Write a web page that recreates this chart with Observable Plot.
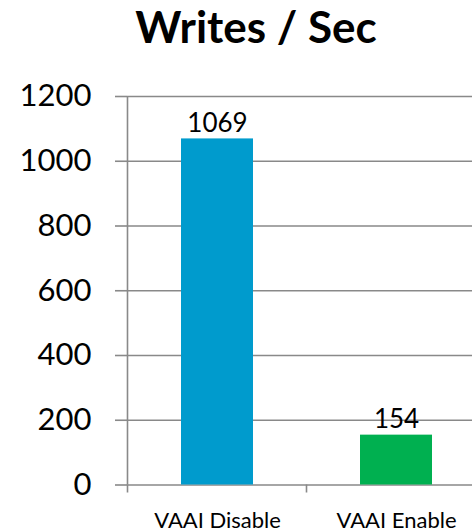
<!DOCTYPE html>
<html>
<head>
<meta charset="utf-8">
<script src="https://cdn.jsdelivr.net/npm/d3@7"></script>
<script src="https://cdn.jsdelivr.net/npm/@observablehq/plot@0.6"></script>
<style>
  html, body { margin: 0; padding: 0; background: #fff; }
  #title {
    width: 472px; box-sizing: border-box; padding-left: 40px;
    height: 52px; line-height: 52px; text-align: center;
    font-family: Lato, sans-serif; font-weight: bold; font-size: 44px; color: #000;
  }
  svg { display: block; }
</style>
</head>
<body>
<div id="title">Writes / Sec</div>
<div id="chart"></div>
<script>
const categories = ["VAAI Disable", "VAAI Enable"];
const writesPerSec = [1069, 154];
const barColors = ["#009BCD", "#00B050"];
const yTicks = [0, 200, 400, 600, 800, 1000, 1200];

const data = categories.map((c, i) => ({category: c, value: writesPerSec[i], color: barColors[i]}));

const axisGray = "#898989";

// Axis line plus category boundary ticks below the baseline
function categoryEdges(index, scales, values, dimensions) {
  const x = scales.x, y = scales.y;
  const bw = x.bandwidth();
  const step = x(categories[1]) - x(categories[0]);
  const gap = (step - bw) / 2;
  const y0 = y(0), yTop = y(d3.max(yTicks));
  const g = d3.create("svg:g").attr("stroke", axisGray).attr("stroke-width", 1.6);
  const edges = categories.map(c => x(c) - gap).concat([x(categories[categories.length - 1]) + bw + gap]);
  g.append("line").attr("x1", edges[0]).attr("x2", edges[0]).attr("y1", yTop).attr("y2", y0);
  for (const e of edges) {
    g.append("line").attr("x1", e).attr("x2", e).attr("y1", y0).attr("y2", y0 + 8);
  }
  return g.node();
}

const plot = Plot.plot({
  width: 472,
  height: 480,
  marginTop: 44,
  marginBottom: 47.5,
  marginLeft: 127,
  marginRight: 0,
  style: {fontFamily: "Lato, sans-serif", color: "#000", background: "#fff", overflow: "visible"},
  x: {domain: categories, range: [127, 485], paddingInner: 0.6, paddingOuter: 0.3, label: null},
  y: {domain: [0, 1200], label: null},
  marks: [
    Plot.gridY(yTicks, {stroke: axisGray, strokeOpacity: 1, strokeWidth: 1.6}),
    Plot.axisY(yTicks, {tickSize: 12, tickPadding: 24, fontSize: 31, tickFormat: d => String(d), stroke: axisGray, strokeWidth: 1.6, label: null, fill: "#000"}),
    Plot.axisX({tickSize: 0, tickPadding: 27, fontSize: 22, label: null, fill: "#000"}),
    Plot.barY(data, {x: "category", y: "value", fill: "color"}),
    Plot.text(data, {x: "category", y: "value", text: d => String(d.value), lineAnchor: "bottom", dy: -7, fontSize: 26, fill: "#000"}),
    categoryEdges
  ]
});
document.getElementById("chart").append(plot);
</script>
</body>
</html>
